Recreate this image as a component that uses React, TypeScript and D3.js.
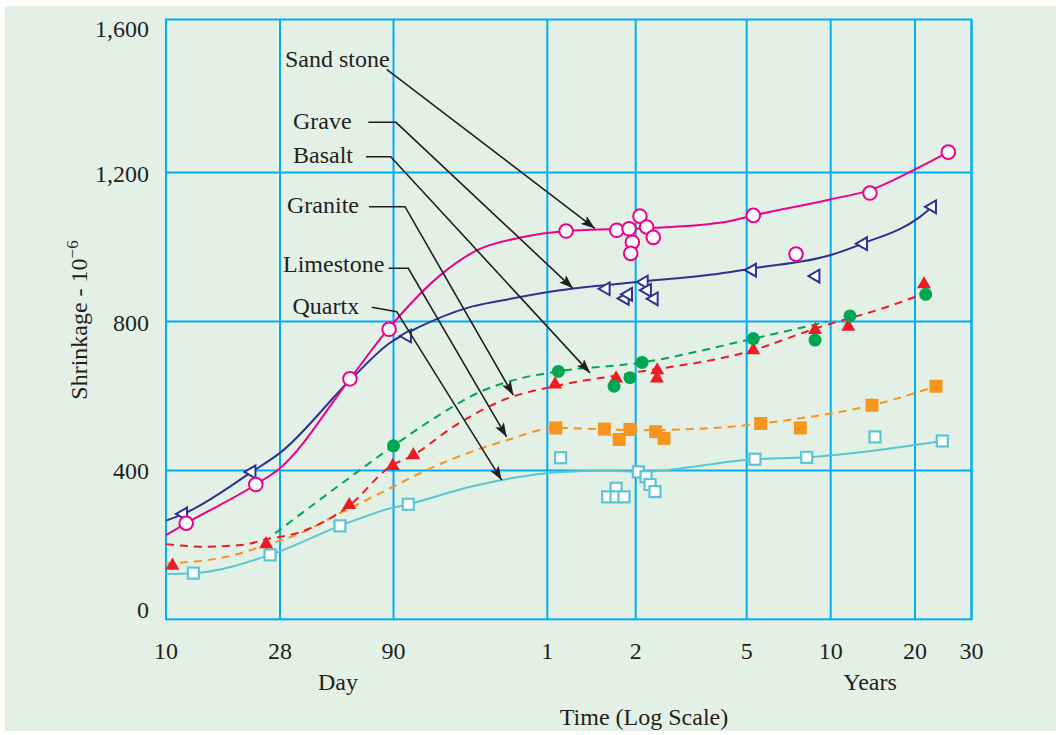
import React from "react";
import * as d3 from "d3";

// ---------- Axis data ----------
const xTickDays = [10, 28, 90, 365, 730, 1825, 3650, 7300, 10950];
const xTickLabels = ["10", "28", "90", "1", "2", "5", "10", "20", "30"];
const yTicks = [0, 400, 800, 1200, 1600];
const yTickLabels = ["0", "400", "800", "1,200", "1,600"];

// ---------- Series: [time in days, shrinkage x10^-6] ----------
const sandstonePoints: [number, number][] = [
  [12, 258], [22.5, 362], [57.5, 646], [86, 779], [423, 1043], [629, 1045], [693, 1049],
  [756, 1083], [799, 1054], [844, 1026], [711, 1013], [702, 983], [1927, 1085], [2742, 981],
  [5041, 1145], [9271, 1255],
];
const sandstoneCurve: [number, number][] = [
  [10, 226], [12, 258], [22.5, 362], [28, 406], [57.5, 646], [87, 786], [141, 930], [192, 991],
  [293, 1027], [425, 1043], [597, 1048], [756, 1050], [1464, 1065], [1927, 1085], [3629, 1128],
  [5041, 1153], [7182, 1206], [9271, 1255],
];

const gravePoints: [number, number][] = [
  [11.7, 283], [21.7, 396], [102, 761], [578, 888], [671, 862], [689, 873], [782, 906],
  [803, 884], [849, 861], [1911, 938], [3226, 922], [4771, 1009], [8265, 1108],
];
const graveCurve: [number, number][] = [
  [10, 265], [11.7, 283], [21.7, 396], [28, 447], [57.5, 642], [86, 741], [114.5, 786],
  [175, 836], [244, 857], [403, 884], [736, 906], [1464, 929], [1927, 943], [3629, 978],
  [4771, 1010], [7568, 1081], [8265, 1108],
];

const basaltPoints: [number, number][] = [
  [90, 466], [398, 666], [616, 626], [698, 649], [769, 690], [1927, 754], [3207, 750],
  [4277, 815], [7882, 873],
];
const basaltCurve: [number, number][] = [
  [26.8, 231], [48.4, 348], [90, 466], [133, 544], [198, 611], [285, 647], [398, 666],
  [769, 690], [1927, 754], [3531, 799],
];

const granitePoints: [number, number][] = [
  [10.6, 144], [24.7, 202], [57.1, 307], [89.3, 412], [107.8, 441], [388, 631], [626, 647],
  [872, 669], [870, 647], [1927, 723], [3207, 777], [4218, 786], [7786, 900],
];
const graniteCurve: [number, number][] = [
  [10, 202], [13.6, 195], [20.1, 200], [24.7, 215], [34.4, 234], [57.5, 307], [86.8, 410],
  [107.8, 441], [155, 517], [244.5, 589], [403, 629], [662, 658], [1927, 723], [3207, 781],
  [5785, 839], [7786, 875],
];

const limestonePoints: [number, number][] = [
  [390, 514], [571, 511], [641, 483], [698, 510], [861, 504], [922, 486], [2049, 526],
  [2841, 514], [5125, 575], [8488, 626],
];
const limestoneCurve: [number, number][] = [
  [10, 150], [17.3, 168], [24.9, 200], [34.4, 231], [51.9, 285], [86.8, 352], [125.5, 405],
  [252, 481], [390, 514], [736, 508], [1464, 515], [2049, 526], [2841, 540], [5125, 575],
  [8488, 626],
];

const quartxPoints: [number, number][] = [
  [12.8, 124], [25.6, 173], [51.9, 251], [103, 309], [405, 434], [746, 396], [795, 383],
  [822, 362], [856, 343], [626, 352], [586, 329], [626, 329], [666, 329], [1954, 430],
  [2994, 435], [5253, 490], [8881, 479],
];
const quartxCurve: [number, number][] = [
  [10, 122], [12.8, 124], [25.6, 173], [51.9, 251], [63.8, 271], [86.8, 298], [103, 309],
  [181, 356], [285, 383], [403, 396], [600, 399], [746, 396], [1954, 430], [2994, 435],
  [8881, 479],
];

// ---------- Annotations ----------
const annLabels = ["Sand stone", "Grave", "Basalt", "Granite", "Limestone", "Quartx"];
const annTargets: [number, number][] = [
  [530, 1050], [446, 889], [510, 662], [268, 602], [252, 490], [241, 374],
];

const W = 1061;
const H = 735;
const INK = "#231f20";
const GRID = "#00aeef";
const FONT = "'Liberation Serif', 'Times New Roman', serif";

const COLORS = {
  sand: "#ec008c",
  grave: "#2e3192",
  basalt: "#00a651",
  granite: "#ed1c24",
  lime: "#f7941d",
  quartx: "#5bc5d2",
};

export default function App() {
  const xPx = [166, 280, 393.5, 547.3, 635.7, 746.7, 830.7, 915, 971.5];
  const x = d3.scaleLog().domain(xTickDays).range(xPx);
  const y = d3.scaleLinear().domain([0, 1600]).range([619.3, 23.7]);
  const top = 19.5;
  const left = xPx[0];
  const right = xPx[xPx.length - 1];
  const bottom = y(0);

  const line = d3
    .line<[number, number]>()
    .x((d) => x(d[0]))
    .y((d) => y(d[1]))
    .curve(d3.curveMonotoneX);

  const triLeft = d3.symbol().type(d3.symbolTriangle).size(70)();
  const triUp = d3.symbol().type(d3.symbolTriangle).size(85)();

  // label layout (text position, leader path start/elbow)
  const annLayout = [
    { tx: 285, ty: 66.5, path: [[386.7, 69.3]] },
    { tx: 293, ty: 128.5, path: [[368.3, 122.3], [396, 122.3]] },
    { tx: 293, ty: 163, path: [[366, 156.7], [390.7, 156.7]] },
    { tx: 287, ty: 213, path: [[369, 206.7], [405, 206.7]] },
    { tx: 283, ty: 271.5, path: [[388.5, 268.3], [408.3, 268.3]] },
    { tx: 292.5, ty: 313.5, path: [[371.7, 307.3], [396.7, 311.7]] },
  ];

  return (
    <svg
      width={W}
      height={H}
      style={{ position: "absolute", left: 0, top: 0, background: "#ffffff" }}
      fontFamily={FONT}
    >
      <defs>
        <marker
          id="arrow"
          viewBox="0 0 14 10"
          refX="14"
          refY="5"
          markerWidth="14"
          markerHeight="10"
          markerUnits="userSpaceOnUse"
          orient="auto"
        >
          <path d="M0,0 L14,5 L0,10 L3,5 Z" fill={INK} />
        </marker>
      </defs>
      <rect x={5} y={6} width={W - 10} height={H - 10} fill="#e3f0e6" />

      {/* grid */}
      <g stroke={GRID} strokeWidth={2} fill="none">
        {xTickDays.map((d, i) => (
          <line key={"vx" + i} x1={x(d)} x2={x(d)} y1={top} y2={bottom} />
        ))}
        {yTicks.slice(1, 4).map((v) => (
          <line key={"hy" + v} x1={left} x2={right} y1={y(v)} y2={y(v)} />
        ))}
        <rect x={left} y={top} width={right - left} height={bottom - top} />
      </g>

      {/* curves */}
      <g fill="none" strokeWidth={2}>
        <path d={line(quartxCurve) || ""} stroke={COLORS.quartx} />
        <path d={line(limestoneCurve) || ""} stroke={COLORS.lime} strokeDasharray="8 6" />
        <path d={line(graniteCurve) || ""} stroke={COLORS.granite} strokeDasharray="8 6" />
        <path d={line(basaltCurve) || ""} stroke={COLORS.basalt} strokeDasharray="8 6" />
        <path d={line(graveCurve) || ""} stroke={COLORS.grave} />
        <path d={line(sandstoneCurve) || ""} stroke={COLORS.sand} />
      </g>

      {/* markers */}
      <g>
        {quartxPoints.map((d, i) => (
          <rect
            key={"q" + i}
            x={x(d[0]) - 5.5}
            y={y(d[1]) - 5.5}
            width={11}
            height={11}
            fill="#ffffff"
            stroke={COLORS.quartx}
            strokeWidth={2.2}
          />
        ))}
        {limestonePoints.map((d, i) => (
          <rect
            key={"l" + i}
            x={x(d[0]) - 6.5}
            y={y(d[1]) - 6.5}
            width={13}
            height={13}
            fill={COLORS.lime}
          />
        ))}
        {granitePoints.map((d, i) => (
          <path
            key={"g" + i}
            d={triUp || ""}
            transform={`translate(${x(d[0])},${y(d[1])})`}
            fill={COLORS.granite}
          />
        ))}
        {basaltPoints.map((d, i) => (
          <circle key={"b" + i} cx={x(d[0])} cy={y(d[1])} r={6.5} fill={COLORS.basalt} />
        ))}
        {gravePoints.map((d, i) => (
          <path
            key={"gr" + i}
            d={triLeft || ""}
            transform={`translate(${x(d[0])},${y(d[1])}) rotate(-90)`}
            fill="#ffffff"
            stroke={COLORS.grave}
            strokeWidth={2}
          />
        ))}
        {sandstonePoints.map((d, i) => (
          <circle
            key={"s" + i}
            cx={x(d[0])}
            cy={y(d[1])}
            r={6.8}
            fill="#ffffff"
            stroke={COLORS.sand}
            strokeWidth={2}
          />
        ))}
      </g>

      {/* annotations */}
      <g>
        {annLabels.map((lab, i) => {
          const L = annLayout[i];
          const tip = annTargets[i];
          const pts = [...L.path, [x(tip[0]), y(tip[1])]];
          const d = "M" + pts.map((p) => p.join(",")).join(" L");
          return (
            <g key={"a" + i}>
              <text x={L.tx} y={L.ty} fontSize={24} fill={INK}>
                {lab}
              </text>
              <path
                d={d}
                fill="none"
                stroke={INK}
                strokeWidth={1.6}
                markerEnd="url(#arrow)"
              />
            </g>
          );
        })}
      </g>

      {/* y tick labels */}
      <g fontSize={24} fill={INK} textAnchor="end">
        {yTicks.map((v, i) => (
          <text
            key={"yt" + v}
            x={149}
            y={y(v) + (v === 0 ? -1 : v === 1600 ? 13 : 9)}
          >
            {yTickLabels[i]}
          </text>
        ))}
      </g>

      {/* x tick labels */}
      <g fontSize={24} fill={INK} textAnchor="middle">
        {xTickDays.map((d, i) => (
          <text key={"xt" + i} x={x(d)} y={659}>
            {xTickLabels[i]}
          </text>
        ))}
        <text x={338} y={690}>Day</text>
        <text x={870} y={690}>Years</text>
        <text x={644} y={725}>Time (Log Scale)</text>
      </g>

      {/* y axis title */}
      <text
        transform="translate(87,320) rotate(-90)"
        textAnchor="middle"
        fontSize={24}
        fill={INK}
      >
        Shrinkage - 10
        <tspan dy={-9} fontSize={17}>
          −6
        </tspan>
      </text>
    </svg>
  );
}
